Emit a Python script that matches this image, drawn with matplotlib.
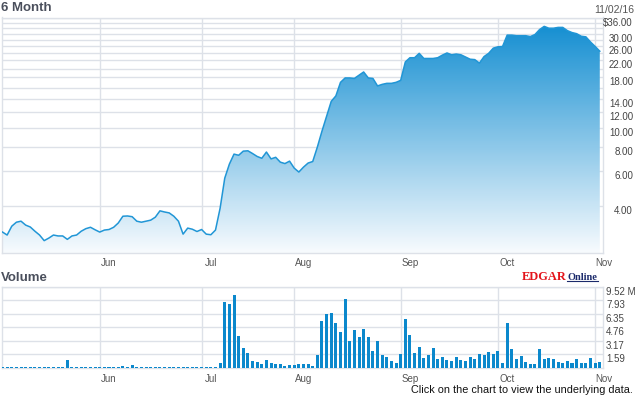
import numpy as np
import pandas as pd
import matplotlib
matplotlib.use('Agg')
import matplotlib.pyplot as plt
from matplotlib import transforms
from matplotlib.colors import LinearSegmentedColormap

# trading days, 6 months ending 11/02/16
holidays = ['2016-05-30', '2016-07-04', '2016-09-05']
days = pd.bdate_range('2016-05-02', '2016-11-02')
days = days[~days.isin(pd.to_datetime(holidays))]

# closing price ($)
price = [2.93, 2.83, 3.14, 3.29, 3.33, 3.18, 3.11, 2.96, 2.83, 2.65,
         2.73, 2.83, 2.80, 2.80, 2.69, 2.80, 2.83, 2.96, 3.05, 3.10,
         3.01, 2.93, 3.00, 3.02, 3.10, 3.26, 3.53, 3.54, 3.51, 3.33,
         3.29, 3.33, 3.37, 3.49, 3.76, 3.71, 3.67, 3.53, 3.33, 2.86,
         3.07, 3.03, 2.95, 3.02, 2.86, 2.84, 3.00, 3.88, 5.52, 6.51,
         7.32, 7.22, 7.58, 7.61, 7.37, 7.12, 6.97, 7.50, 6.92, 7.05,
         6.66, 6.55, 6.74, 6.21, 5.93, 6.28, 6.59, 6.71, 7.95, 9.59,
         11.4, 13.6, 14.5, 17.0, 17.9, 17.9, 17.8, 18.5, 19.2, 17.9,
         17.8, 16.3, 16.6, 16.8, 16.8, 17.0, 17.4, 21.6, 22.7, 22.7,
         23.9, 22.5, 22.5, 22.5, 22.7, 23.4, 24.0, 23.5, 23.7, 23.5,
         22.9, 22.3, 22.2, 21.3, 23.0, 23.9, 25.4, 25.8, 25.9, 29.6,
         29.6, 29.4, 29.4, 29.4, 29.1, 29.8, 31.6, 32.8, 32.1, 32.1,
         32.4, 32.4, 31.2, 30.5, 30.1, 29.2, 29.0, 27.3, 25.9, 24.5]

# volume (millions of shares)
volume = [0.12, 0.12, 0.12, 0.12, 0.12, 0.12, 0.12, 0.12, 0.12, 0.12,
          0.12, 0.12, 0.12, 0.12, 0.90, 0.12, 0.12, 0.12, 0.12, 0.12,
          0.12, 0.12, 0.12, 0.12, 0.12, 0.12, 0.25, 0.12, 0.32, 0.12,
          0.12, 0.12, 0.12, 0.12, 0.12, 0.12, 0.12, 0.12, 0.12, 0.12,
          0.12, 0.12, 0.12, 0.12, 0.12, 0.12, 0.12, 0.57, 7.76, 7.48,
          8.56, 3.72, 2.31, 1.76, 0.82, 0.71, 0.43, 0.90, 0.59, 0.43,
          0.43, 0.24, 0.32, 0.32, 0.43, 0.40, 0.43, 0.20, 1.49, 5.52,
          6.27, 6.39, 5.22, 4.16, 8.07, 3.14, 4.43, 3.60, 4.55, 3.60,
          1.96, 3.14, 1.49, 1.29, 0.82, 0.59, 1.65, 5.72, 3.84, 1.76,
          2.47, 1.18, 1.49, 2.30, 1.00, 1.30, 0.90, 0.80, 1.20, 0.90,
          0.80, 1.30, 1.00, 1.60, 1.50, 1.90, 1.60, 2.00, 0.59, 5.22,
          2.19, 0.99, 1.41, 0.71, 0.40, 0.40, 2.19, 0.99, 1.18, 0.99,
          0.71, 0.59, 0.82, 0.51, 0.99, 0.59, 0.59, 1.18, 0.59, 0.71]

price_ticks = [4, 6, 8, 10, 12, 14, 18, 22, 26, 30, 36]
price_grid = [4, 6, 8, 10, 12, 14, 16, 18, 20, 22, 24, 26, 28, 30, 32, 34, 36]
vol_ticks = [1.59, 3.17, 4.76, 6.35, 7.93, 9.52]
month_names = ['Jun', 'Jul', 'Aug', 'Sep', 'Oct', 'Nov']

x = np.arange(len(days))
month_idx = [int(np.argmax(days.month == m)) for m in (6, 7, 8, 9, 10, 11)]

plt.rcParams['font.family'] = ['Liberation Sans', 'DejaVu Sans']
GRID = '#dde1e8'
TXT = '#4a4f5c'

fig = plt.figure(figsize=(6.35, 3.96), dpi=100)
W, H = 635.0, 396.0


def box(l, t, r, b):
    return [l / W, 1 - b / H, (r - l) / W, (b - t) / H]


ax = fig.add_axes(box(2, 17.5, 602.7, 252.7))
axv = fig.add_axes(box(2, 286.7, 602.7, 367.7))

# price panel: gradient fill clipped to the area under the line
ax.set_yscale('log')
poly = ax.fill_between(x, price, 1.0, color='none', lw=0)
cmap = LinearSegmentedColormap.from_list('fill', ['#f8fbfe', '#0d8bd0'])
grad = np.linspace(0, 1, 256).reshape(-1, 1)
img = ax.imshow(grad, cmap=cmap, origin='lower', extent=[0, 1, 0, 1],
                transform=ax.transAxes, aspect='auto', zorder=2)
img.set_clip_path(poly.get_paths()[0], transform=ax.transData)
ax.plot(x, price, color='#2196d6', lw=1.1, zorder=3)

for g in price_grid:
    ax.axhline(g, color=GRID, lw=1, zorder=1)
for m in month_idx:
    ax.axvline(m, color=GRID, lw=1, zorder=1)
    axv.axvline(m, color=GRID, lw=1, zorder=1)
for g in vol_ticks:
    axv.axhline(g, color=GRID, lw=1, zorder=1)

axv.bar(x, volume, width=0.65, color='#0b88cc', zorder=3)

for a in (ax, axv):
    a.set_xlim(-0.11, 129.63)
    a.set_xticks([])
    a.set_yticks([])
    a.minorticks_off()
    for s in a.spines.values():
        s.set_color(GRID)
        s.set_linewidth(1)
ax.set_ylim(2.30, 36.4)
axv.set_ylim(0, 9.52)

# right-hand labels
tp = transforms.blended_transform_factory(fig.transFigure, ax.transData)
for v in price_ticks:
    lab = '$%.2f' % v if v == price_ticks[-1] else '%.2f' % v
    ax.text(633 / W, v, lab, transform=tp, ha='right', va='top',
            fontsize=7, color='#444444')
tv = transforms.blended_transform_factory(fig.transFigure, axv.transData)
for v in vol_ticks:
    lab = '%.2f M' % v if v == vol_ticks[-1] else '%.2f' % v
    axv.text(606 / W, v, lab, transform=tv, ha='left', va='top',
             fontsize=7, color='#444444')

# month labels under both panels
for a, yy in ((ax, 263), (axv, 379.5)):
    tm = transforms.offset_copy(
        transforms.blended_transform_factory(a.transData, fig.transFigure),
        fig=fig, x=9, y=0, units='dots')
    for m, name in zip(month_idx, month_names):
        a.text(m, 1 - yy / H, name, transform=tm, ha='center', va='center',
               fontsize=7, color='#555555')

fig.text(1 / W, 1 - 8 / H, '6 Month', fontsize=9.5, weight='bold',
         color=TXT, ha='left', va='center')
fig.text(1 / W, 1 - 278 / H, 'Volume', fontsize=9.5, weight='bold',
         color=TXT, ha='left', va='center')
fig.text(634 / W, 1 - 10 / H, '11/02/16', fontsize=7.5, color='#555555',
         ha='right', va='center')
fig.text(633 / W, 1 - 390 / H, 'Click on the chart to view the underlying data.',
         fontsize=7.8, color='#111111', ha='right', va='center')

# EDGAR Online logo
fig.text(521.5 / W, 1 - 279.5 / H, 'EDGAR', family='Liberation Serif',
         weight='bold', fontsize=8.9, color='#e3141b', ha='left', va='baseline')
fig.text(567 / W, 1 - 279.5 / H, 'Online', family='Liberation Serif',
         weight='bold', fontsize=7.5, color='#1b2a6b', ha='left', va='baseline')
fig.add_artist(plt.Line2D([567 / W, 598 / W], [1 - 281 / H, 1 - 281 / H],
                          color='#1b2a6b', lw=0.8))

fig.savefig('out.png', dpi=100)
